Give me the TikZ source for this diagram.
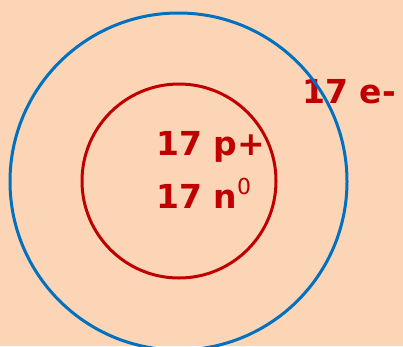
\documentclass[tikz,border=0pt]{standalone}
\usepackage{fontspec}
\setmainfont{DejaVu Sans}
\definecolor{bgpeach}{HTML}{FBD5B5}
\definecolor{txtred}{HTML}{C00000}
\definecolor{ringblue}{HTML}{0070C0}
\tikzset{
  lbl/.style={anchor=base west, inner sep=0pt, text=txtred, font=\fontsize{33}{38}\selectfont\bfseries},
  ring/.style={line width=3pt}
}
\begin{document}
\begin{tikzpicture}[x=1pt,y=-1pt]
\fill[bgpeach] (0,0) rectangle (403,346);
\useasboundingbox (0,0) rectangle (403,346);
\node[ring, draw=txtred, circle, minimum size=194pt, inner sep=0pt] (nucleus) at (179,181) {};
\node[lbl] (prot) at (156,155) {17 p+};
\node[lbl] (neut) at (156,208) {17 n\raisebox{14pt}{\fontsize{22}{24}\selectfont\mdseries 0}};
\node[lbl] (elec) at (302,103) {17 e-};
\node[ring, draw=ringblue, circle, minimum size=337pt, inner sep=0pt] (shell) at (178.5,181.5) {};
\end{tikzpicture}
\end{document}
